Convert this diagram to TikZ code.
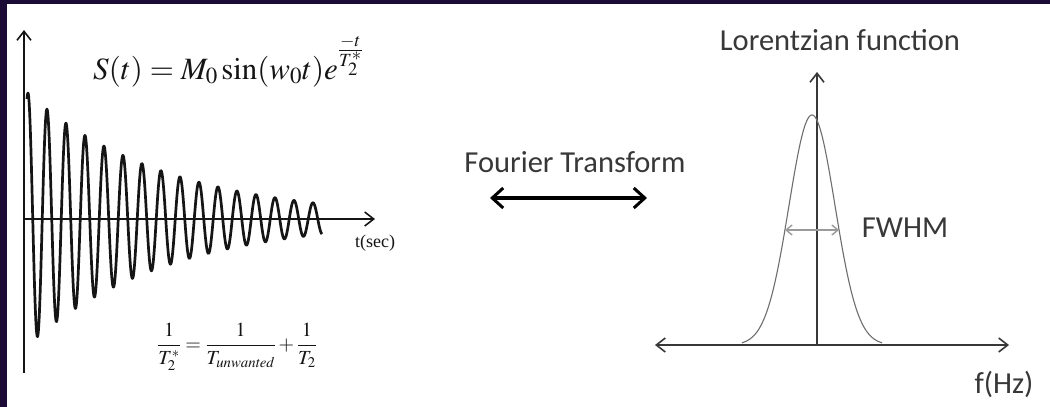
\documentclass[tikz,border=0pt]{standalone}
\usepackage{mathptmx}
\usepackage{fontspec}
\setmainfont{Liberation Serif}
\newfontfamily\calib{Carlito}
\usetikzlibrary{arrows.meta,positioning}
\definecolor{frameInk}{HTML}{1B0B36}
\definecolor{plotInk}{HTML}{151515}
\definecolor{specInk}{HTML}{383838}
\definecolor{peakInk}{HTML}{6E6E6E}
\definecolor{fwhmInk}{HTML}{9A9A9A}
\tikzset{
  sigaxis/.style={line width=2pt, draw=plotInk, -{Straight Barb[length=9pt,width=14pt,line width=1.6pt]}},
  specaxis/.style={line width=2pt, draw=specInk, {Straight Barb[length=9pt,width=14pt,line width=1.6pt]}-{Straight Barb[length=9pt,width=14pt,line width=1.6pt]}},
  ftarr/.style={line width=4pt, draw=black, {Straight Barb[length=11pt,width=20pt,line width=3pt]}-{Straight Barb[length=11pt,width=20pt,line width=3pt]}},
  calabel/.style={font=\calib\fontsize{30.5}{34}\selectfont, text=specInk, inner sep=0pt},
  eqlabel/.style={font=\fontsize{31}{36}\selectfont, text=plotInk, inner sep=0pt},
}
\begin{document}
\begin{tikzpicture}[x=1pt,y=-1pt]
  \useasboundingbox (0,0) rectangle (1050,407);
  \fill[white] (0,0) rectangle (1050,407);
  \fill[frameInk] (0,0) rectangle (1050,4);
  \fill[frameInk] (0,0) rectangle (7,407);
  % time domain: decaying signal
  \coordinate (sO) at (24,219);
  \coordinate (sTop) at (24,30);
  \coordinate (sBot) at (24,373);
  \coordinate (sEnd) at (375,219);
  \draw[line width=2pt, draw=plotInk] (sBot) -- (sO);
  \draw[sigaxis] (sO) -- (sTop);
  \draw[sigaxis] (sO) -- (sEnd);
  \draw[line width=2.7pt, draw=plotInk, line join=round]
    plot[domain=27:322, samples=700] (\x, {219-126*exp((28-\x)/139)*cos(18.947*(\x-28))});
  \node[eqlabel, anchor=base west] (sig) at (93,79) {$S(t)=M_0\sin(w_0t)e^{\frac{-t}{T_2^*}}$};
  \node[eqlabel, font=\fontsize{18}{22}\selectfont, anchor=west] (tlab) at (355,243) {t(sec)};
  \node[eqlabel, font=\fontsize{20}{24}\selectfont] (rel) at (237,347)
    {$\displaystyle\frac{1}{T_2^*}=\frac{1}{T_{\mathit{unwanted}}}+\frac{1}{T_2}$};
  % transform
  \node[calabel] (ft) at (575,162) {Fourier Transform};
  \coordinate (ftL) at (490,198);
  \coordinate (ftR) at (647,198);
  \draw[ftarr] (ftL) -- (ftR);
  % frequency domain: line shape
  \node[calabel] (lor) at (840,40) {Lorentzian function};
  \coordinate (fO) at (817,345);
  \coordinate (fTop) at (817,72);
  \coordinate (fL) at (655,345);
  \coordinate (fR) at (1009,345);
  \draw[specaxis] (fL) -- (fR);
  \draw[sigaxis, draw=specInk, line width=2.6pt] (fO) -- (fTop);
  \draw[line width=1.1pt, draw=peakInk]
    plot[domain=742:882, samples=120, smooth] (\x, {345-230*exp(-((\x-812)^2)/1058)});
  \coordinate (hwL) at (785,230);
  \coordinate (hwR) at (839,230);
  \draw[line width=1.4pt, draw=fwhmInk, {Straight Barb[length=6pt,width=10pt]}-{Straight Barb[length=6pt,width=10pt]}] (hwL) -- (hwR);
  \node[calabel] (fw) at (905,228) {FWHM};
  \node[calabel] (fhz) at (1004,384) {f(Hz)};
\end{tikzpicture}
\end{document}
